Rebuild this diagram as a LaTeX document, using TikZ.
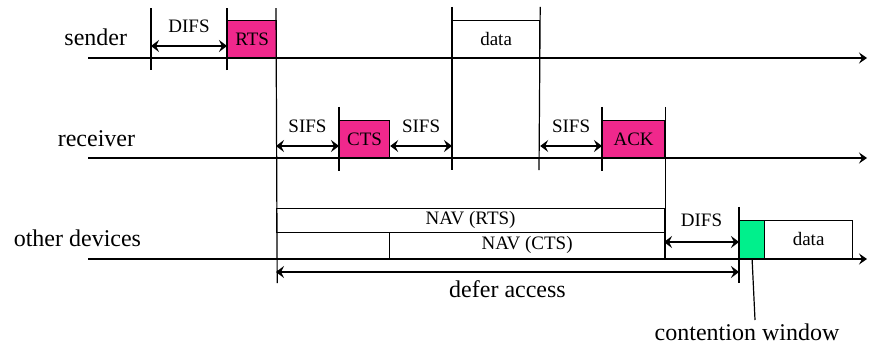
\documentclass[tikz,border=0pt]{standalone}
\usepackage{fontspec}
\setmainfont{Liberation Serif}
\usetikzlibrary{arrows.meta, positioning}
\definecolor{framepink}{RGB}{240,40,140}
\definecolor{cwgreen}{RGB}{0,240,140}

\begin{document}
\begin{tikzpicture}[x=1pt, y=-1pt, line width=1.2pt,
  frame/.style={rectangle, draw, fill=#1, inner sep=0pt, anchor=south west, minimum height=37pt, font=\fontsize{19}{22}\selectfont},
  tick/.style={line width=1.2pt},
  span/.style={{Stealth[length=8pt, width=12pt, inset=3pt]}-{Stealth[length=8pt, width=12pt, inset=3pt]}},
  timeline/.style={-{Stealth[length=8pt, width=11pt, inset=3pt]}},
  biglabel/.style={font=\fontsize{24}{28}\selectfont},
  smalllabel/.style={font=\fontsize{19}{22}\selectfont, inner sep=2pt}]

\useasboundingbox (0,0) rectangle (869,349);

% Stations

\node [biglabel, anchor=base east] (sendertitle) at (131,45) {sender};
\node [biglabel, anchor=base east] (receivertitle) at (139,146) {receiver};
\node [biglabel, anchor=base east] (othertitle) at (145,246) {other devices};

\coordinate (sender) at (88,58);
\coordinate (receiver) at (88,158);
\coordinate (other) at (88,259);

\draw[timeline] (sender) -- ++(779,0);
\draw[timeline] (receiver) -- ++(779,0);
\draw[timeline] (other) -- ++(779,0);

% Frames

\node [frame=framepink, minimum width=49pt] (rts) at (227,58) {RTS};
\node [frame=white, minimum width=87pt] (data) at (452,58) {data};
\node [frame=framepink, minimum width=50pt] (cts) at (339,158) {CTS};
\node [frame=framepink, minimum width=62pt] (ack) at (602,158) {ACK};
\node [frame=white, minimum width=388pt, minimum height=24pt] (navrts) at (276,233) {NAV (RTS)};
\node [frame=white, minimum width=275pt, minimum height=26pt] (navcts) at (389,259) {NAV (CTS)};
\node [frame=cwgreen, minimum width=25pt, minimum height=38pt] (cw) at (739,259) {};
\node [frame=white, minimum width=88pt, minimum height=38pt] (otherdata) at (764,259) {data};

% Ticks

\draw[tick] (151,8) -- (151,70);
\draw[tick] (rts.south west) ++(0,12) -- (227,8);
\draw[tick] (rts.south east) ++(0,225) -- (276,8);
\draw[tick] (data.north west) ++(0,-13) -- (452,170);
\draw[tick] (data.north east) ++(0,-13) -- (539,170);
\draw[tick] (cts.north west) ++(0,-13) -- (339,171);
\draw[tick] (ack.north west) ++(0,-13) -- (602,171);
\draw[tick] (ack.north east) ++(0,-13) -- (navcts.south east);
\draw[tick] (cw.north west) ++(0,-13) -- (739,283);

% Spacings

\coordinate (difsa) at (151,46);
\coordinate (difsb) at (rts.west |- difsa);
\draw[span] (difsa) -- (difsb) node[midway, above=11pt, smalllabel] (difstop) {DIFS};

\coordinate (sifsa) at (276,146);
\coordinate (sifsb) at (cts.west |- sifsa);
\draw[span] (sifsa) -- (sifsb) node[midway, above=11pt, smalllabel] (sifsone) {SIFS};

\coordinate (sifsc) at (cts.east |- sifsa);
\coordinate (sifsd) at (data.west |- sifsa);
\draw[span] (sifsc) -- (sifsd) node[midway, above=11pt, smalllabel] (sifstwo) {SIFS};

\coordinate (sifse) at (data.east |- sifsa);
\coordinate (sifsf) at (ack.west |- sifsa);
\draw[span] (sifse) -- (sifsf) node[midway, above=11pt, smalllabel] (sifsthree) {SIFS};

\coordinate (difsc) at (664,242);
\coordinate (difsd) at (cw.west |- difsc);
\draw[span] (difsc) -- (difsd) node[midway, above=13pt, smalllabel] (difsbottom) {DIFS};

\coordinate (defera) at (276,272);
\coordinate (deferb) at (cw.west |- defera);
\draw[span] (defera) -- (deferb) node[midway, below=5pt, biglabel] (defer) {defer access};

% Contention window

\coordinate (cwend) at (755,320);
\draw (cw.south) -- (cwend);
\node [biglabel, below=0pt of cwend, xshift=-8pt] (cwtitle) {contention window};

\end{tikzpicture}
\end{document}
